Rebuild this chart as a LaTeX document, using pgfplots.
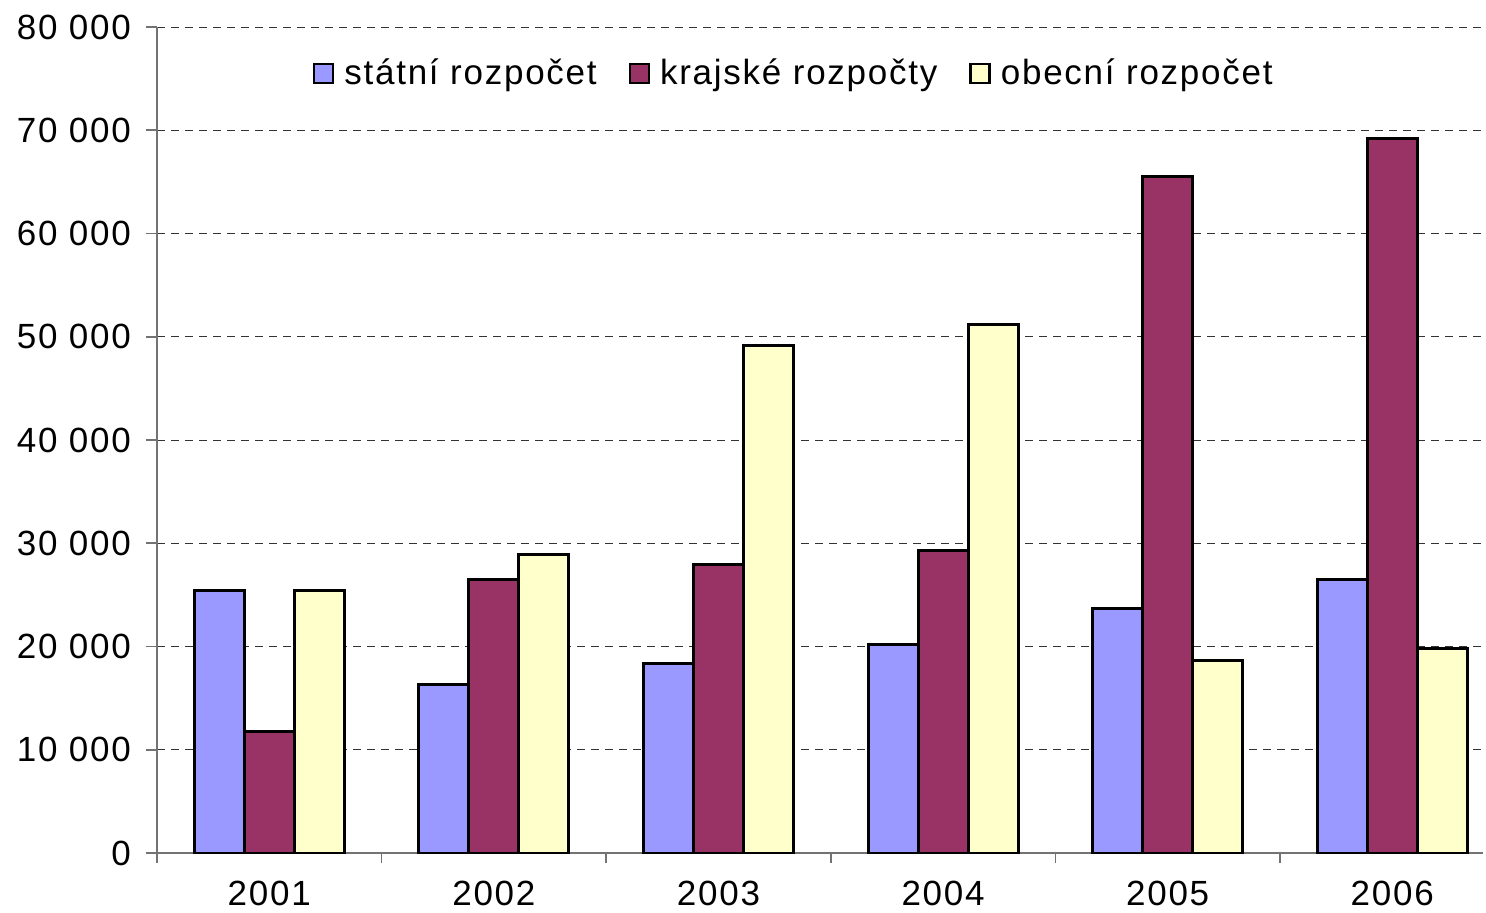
\documentclass[border=0pt]{standalone}
\usepackage{pgfplots}
\pgfplotsset{compat=1.18}
\usepackage{fontspec}
\setmainfont{Liberation Sans}
\newfontfamily\spacedfont[LetterSpace=5]{Liberation Sans}

\definecolor{statni}{HTML}{9999FF}
\definecolor{krajske}{HTML}{993366}
\definecolor{obecni}{HTML}{FFFFCC}

\begin{document}
\begin{tikzpicture}
\path[use as bounding box] (-78.5pt,-29.5pt) rectangle (664.5pt,426.5pt);
\begin{axis}[
    at={(0pt,0pt)}, anchor=south west,
    scale only axis,
    width=663pt, height=413pt,
    ybar=0pt,
    bar width=0.2226,
    xmin=-0.5, xmax=5.404,
    ymin=0, ymax=80000,
    enlarge x limits=false,
    scaled y ticks=false,
    axis x line*=bottom,
    axis y line*=left,
    axis line style={draw=gray!90!black, line width=0.8pt, -},
    xtick={0,1,2,3,4,5},
    xticklabels={2001,2002,2003,2004,2005,2006},
    minor xtick={-0.5,0.5,1.5,2.5,3.5,4.5},
    ytick={0,10000,20000,30000,40000,50000,60000,70000,80000},
    yticklabels={0,10 000,20 000,30 000,40 000,50 000,60 000,70 000,80 000},
    tick align=outside,
    x tick style={draw=none},
    minor x tick style={draw=gray!90!black, line width=0.8pt},
    minor tick length=5pt,
    y tick style={draw=gray!90!black, line width=0.8pt},
    major tick length=5.5pt,
    ymajorgrids,
    grid style={dashed, dash pattern=on 4pt off 3pt, draw=black!80, line width=0.5pt},
    tick label style={font=\spacedfont\fontsize{17.5}{20}\selectfont},
    yticklabel style={xshift=-4pt},
    xticklabel style={yshift=-5pt},
    legend style={
        at={(0.481,0.944)}, anchor=center,
        draw=none, fill=none,
        legend columns=3,
        font=\spacedfont\fontsize{17.5}{20}\selectfont,
        /tikz/every odd column/.append style={column sep=3pt},
        /tikz/every even column/.append style={column sep=14pt},
    },
    legend image code/.code={
        \draw[#1, line width=1.2pt, draw=black] (0pt,-5pt) rectangle (9.5pt,4.5pt);
    },
    every axis plot/.append style={draw=black, line width=1.5pt},
]
\addplot[fill=statni] coordinates {
    (0,25400) (1,16300) (2,18400) (3,20200) (4,23700) (5,26500)
};
\addplot[fill=krajske] coordinates {
    (0,11800) (1,26500) (2,27900) (3,29300) (4,65500) (5,69200)
};
\addplot[fill=obecni] coordinates {
    (0,25400) (1,28900) (2,49200) (3,51200) (4,18600) (5,19800)
};
\legend{státní rozpočet, krajské rozpočty, obecní rozpočet}
\end{axis}
\end{tikzpicture}
\end{document}
